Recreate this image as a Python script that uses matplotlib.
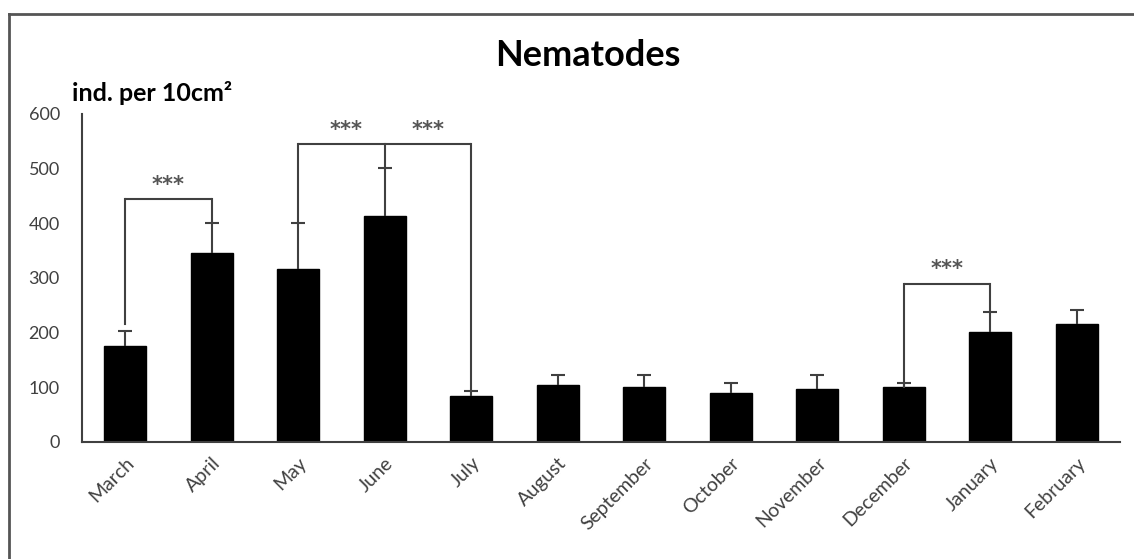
"""Nematodes: monthly abundance with significance brackets."""

import numpy as np
import matplotlib.pyplot as plt
from matplotlib.lines import Line2D

plt.rcParams['font.family'] = ['Lato', 'DejaVu Sans']

# months and mean abundance (ind. per 10 cm2) with upper standard error
months = ["March", "April", "May", "June", "July", "August", "September",
          "October", "November", "December", "January", "February"]
means = [175, 345, 316, 413, 84, 105, 101, 90, 97, 100, 201, 215]
errors = [28, 55, 84, 87, 9, 17, 21, 18, 25, 8, 37, 27]

# significance brackets: month indices of the legs, leg bottoms, bracket height
bracket_legs = [[0, 1], [2, 3, 4], [9, 10]]
bracket_bottoms = [[215, 400], [400, 500, 93], [100, 238]]
bracket_heights = [443, 545, 289]
# position of the "***" labels (x in month units, y in data units)
star_x = [0.5, 2.55, 3.5, 9.5]
star_y = [470, 570, 570, 316]

dark = "#404040"

fig = plt.figure(figsize=(11.34, 5.59), dpi=100)
ax = fig.add_axes([82 / 1134, 1 - 442 / 559, 1038 / 1134, (442 - 113.5) / 559])

x = np.arange(len(months))
ax.bar(x, means, width=0.48, color="black", edgecolor="black", zorder=2)
_, caps, _ = ax.errorbar(x, means, yerr=[np.zeros(len(errors)), errors],
                         fmt="none", ecolor=dark, elinewidth=1.5, capsize=5,
                         capthick=1.5, zorder=3)
# only the upper caps are shown
caps[0].set_visible(False)

# brackets
for legs, bottoms, top in zip(bracket_legs, bracket_bottoms, bracket_heights):
    ax.plot([legs[0], legs[-1]], [top, top], color=dark, lw=1.5, zorder=3,
            solid_capstyle="butt")
    for leg, bottom in zip(legs, bottoms):
        ax.plot([leg, leg], [bottom, top], color=dark, lw=1.5, zorder=3)

for sx, sy in zip(star_x, star_y):
    ax.text(sx, sy, "***", ha="center", va="center", fontsize=15,
            color="#555555", fontweight="bold", family="DejaVu Sans")

ax.set_xlim(-0.5, 11.5)
ax.set_ylim(0, 600)
ax.set_yticks(range(0, 601, 100))
ax.set_xticks(x)
ax.set_xticklabels(months, rotation=45, ha="right", rotation_mode="anchor",
                   fontsize=14, color=dark)
ax.tick_params(axis="y", length=0, pad=16, labelsize=13, labelcolor=dark)
ax.tick_params(axis="x", length=0, pad=9)

for side in ["top", "right"]:
    ax.spines[side].set_visible(False)
for side in ["left", "bottom"]:
    ax.spines[side].set_color(dark)
    ax.spines[side].set_linewidth(1.5)

# title and unit label
fig.text(588 / 1134, 1 - 55 / 559, "Nematodes", ha="center", va="center",
         fontsize=26, fontweight="bold", color="black")
fig.text(72 / 1134, 1 - 93 / 559, "ind. per 10cm²", ha="left", va="center",
         fontsize=18, fontweight="bold", color="black")

# outer frame (open towards the right and bottom)
fig.add_artist(Line2D([9 / 1134, 1.0], [1 - 14 / 559, 1 - 14 / 559],
                      transform=fig.transFigure, color="#555555", lw=2))
fig.add_artist(Line2D([9 / 1134, 9 / 1134], [0.0, 1 - 14 / 559],
                      transform=fig.transFigure, color="#555555", lw=2))

plt.savefig("out.png", dpi=100)
